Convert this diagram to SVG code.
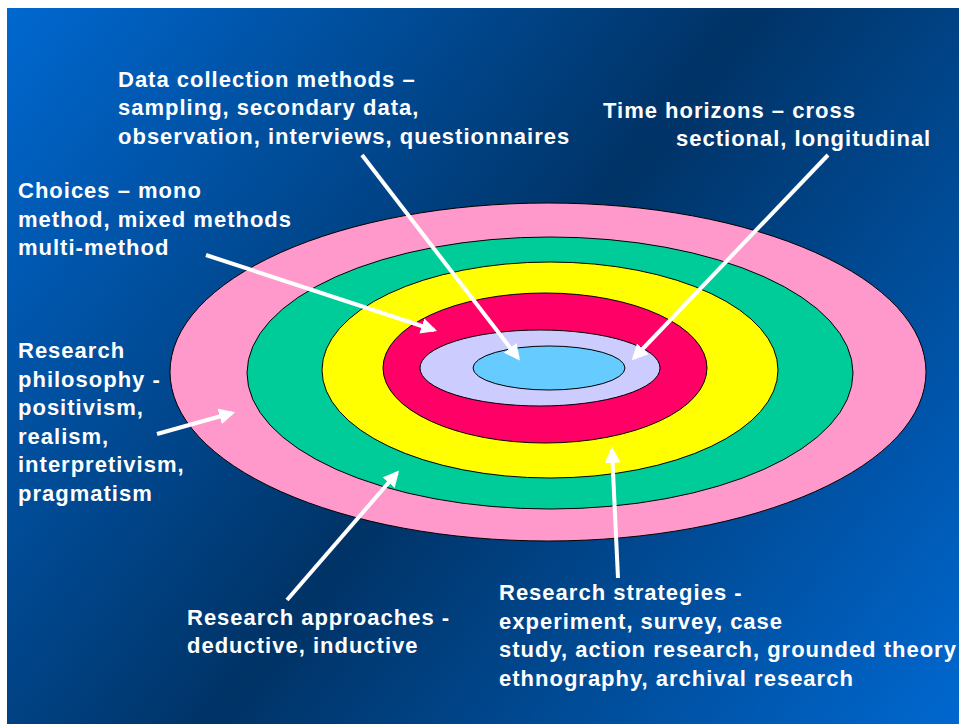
<svg xmlns="http://www.w3.org/2000/svg" width="959" height="724" viewBox="0 0 959 724">
<defs>
<linearGradient id="bg" x1="7" y1="8" x2="959" y2="724" gradientUnits="userSpaceOnUse">
<stop offset="0" stop-color="#0068d0"/>
<stop offset="0.5" stop-color="#003366"/>
<stop offset="1" stop-color="#0068d0"/>
</linearGradient>
<marker id="ah" viewBox="0 0 10 10" refX="8" refY="5" markerWidth="4" markerHeight="4" orient="auto" markerUnits="strokeWidth">
<path d="M0,0 L10,5 L0,10 z" fill="#fff"/>
</marker>
<style>
text{font-family:"Liberation Sans",Arial,sans-serif;font-weight:bold;font-size:22px;letter-spacing:1px;fill:#fff}
.ring{stroke:#000;stroke-width:1}
.arr{stroke:#fff;stroke-width:4;fill:none;marker-end:url(#ah)}
</style>
</defs>
<rect x="0" y="0" width="959" height="724" fill="#fff"/>
<rect x="7" y="8" width="952" height="716" fill="url(#bg)"/>
<g id="ring-philosophy"><ellipse class="ring" cx="548" cy="372" rx="378" ry="169" fill="#ff99cc"/></g>
<g id="ring-approaches"><ellipse class="ring" cx="550" cy="373" rx="303" ry="136" fill="#00cc99"/></g>
<g id="ring-strategies"><ellipse class="ring" cx="550" cy="370" rx="228" ry="108" fill="#ffff00"/></g>
<g id="ring-choices"><ellipse class="ring" cx="545" cy="368" rx="162" ry="75" fill="#ff0066"/></g>
<g id="ring-time"><ellipse class="ring" cx="540" cy="368" rx="120" ry="38" fill="#ccccff"/></g>
<g id="ring-data"><ellipse class="ring" cx="549" cy="368" rx="76" ry="22" fill="#66ccff"/></g>
<g id="connectors">
<line class="arr" x1="362" y1="155" x2="518" y2="358"/>
<line class="arr" x1="828" y1="155" x2="634" y2="358"/>
<line class="arr" x1="206" y1="255" x2="434" y2="330"/>
<line class="arr" x1="157" y1="434" x2="232" y2="413"/>
<line class="arr" x1="287" y1="600" x2="397" y2="473"/>
<line class="arr" x1="618" y1="578" x2="612" y2="450"/>
</g>
<g id="label-data">
<text x="118" y="87">Data collection methods –</text>
<text x="118" y="115">sampling, secondary data,</text>
<text x="118" y="144">observation, interviews, questionnaires</text>
</g>
<g id="label-time">
<text x="603" y="118">Time horizons – cross</text>
<text x="676" y="146">sectional, longitudinal</text>
</g>
<g id="label-choices">
<text x="18" y="198">Choices – mono</text>
<text x="18" y="227">method, mixed methods</text>
<text x="18" y="255">multi-method</text>
</g>
<g id="label-philosophy">
<text x="18" y="358">Research</text>
<text x="18" y="387">philosophy -</text>
<text x="18" y="415">positivism,</text>
<text x="18" y="444">realism,</text>
<text x="18" y="472">interpretivism,</text>
<text x="18" y="501">pragmatism</text>
</g>
<g id="label-approaches">
<text x="187" y="625">Research approaches -</text>
<text x="187" y="653">deductive, inductive</text>
</g>
<g id="label-strategies">
<text x="499" y="600">Research strategies -</text>
<text x="499" y="629">experiment, survey, case</text>
<text x="499" y="657">study, action research, grounded theory</text>
<text x="499" y="686">ethnography, archival research</text>
</g>
</svg>
